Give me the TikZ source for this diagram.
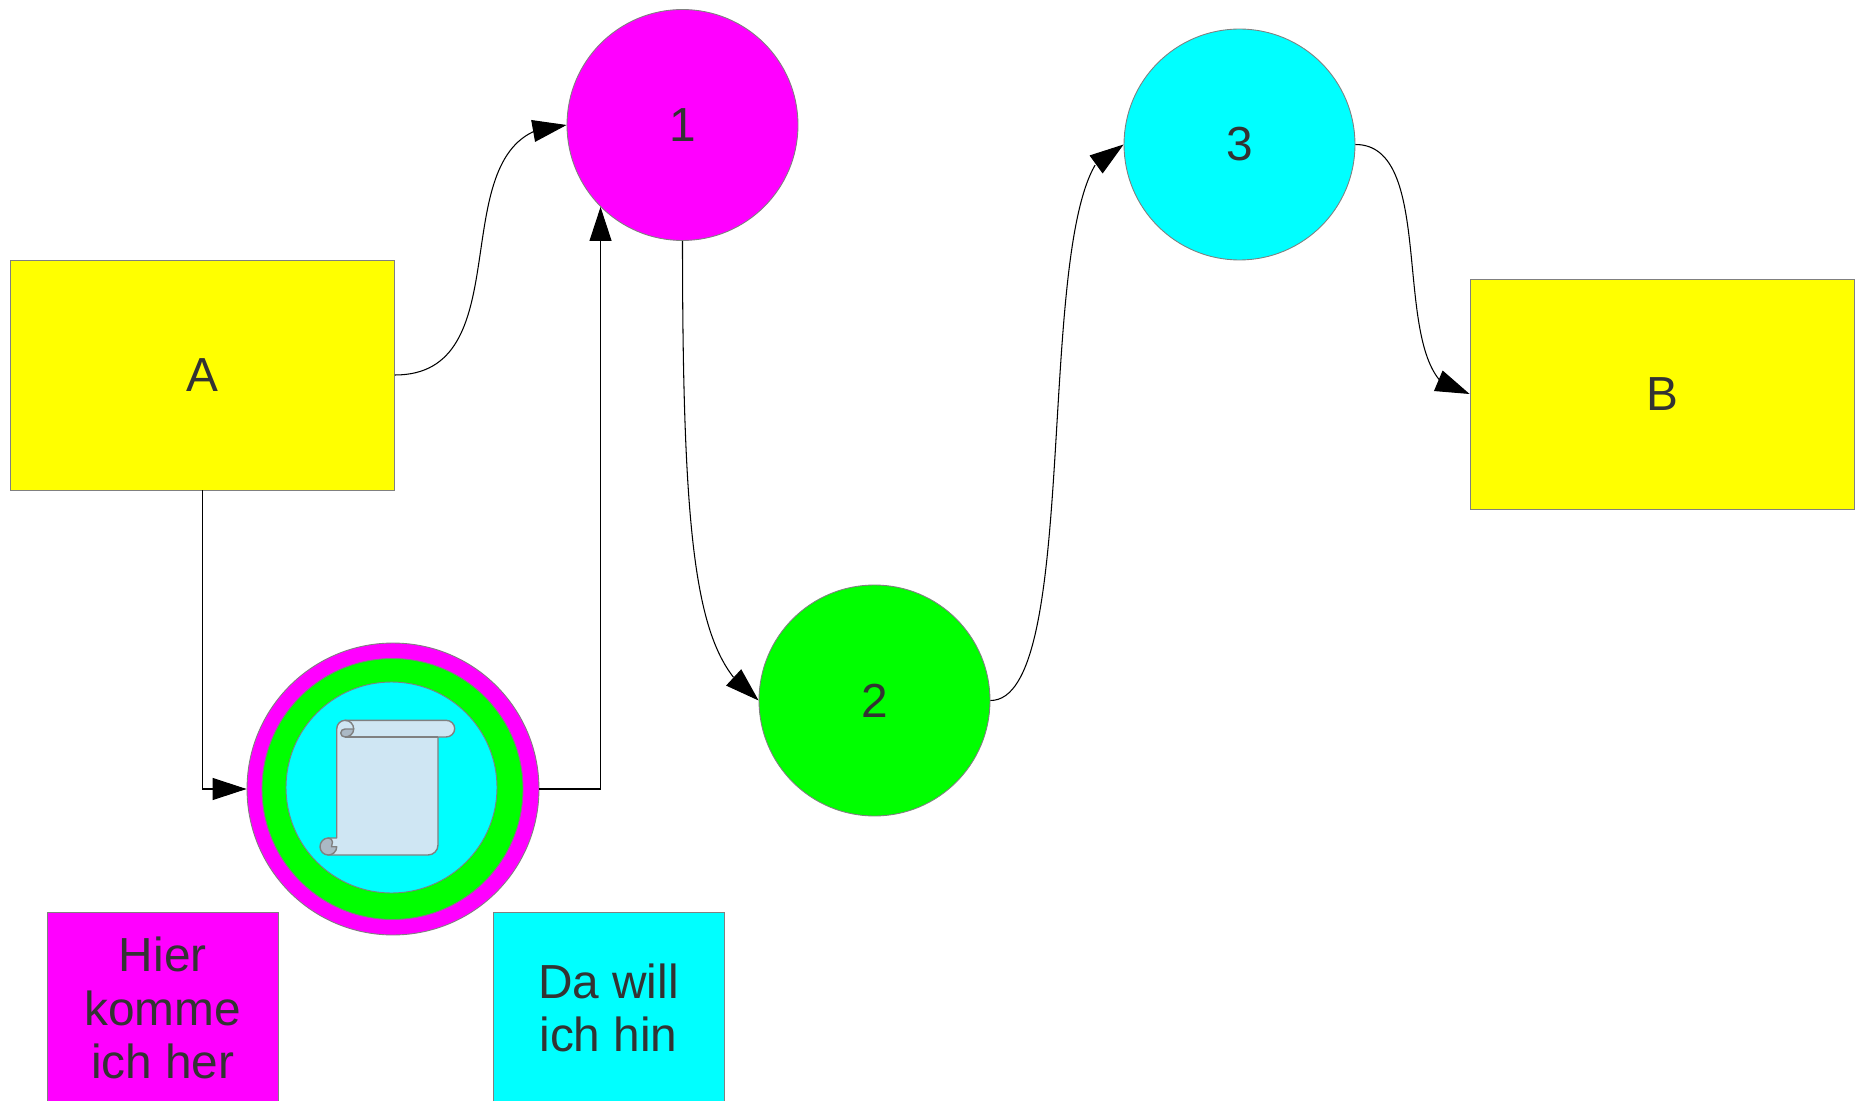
\documentclass[tikz,border=0pt]{standalone}
\usepackage{fontspec}
\setmainfont{Liberation Sans}
\usetikzlibrary{arrows.meta,bending}
\definecolor{textgrey}{HTML}{333333}
\definecolor{linegrey}{HTML}{808080}
\definecolor{scrollblue}{HTML}{CFE6F3}
\definecolor{curlblue}{HTML}{ABB9C5}
\definecolor{puremagenta}{HTML}{FF00FF}
\definecolor{purecyan}{HTML}{00FFFF}
\definecolor{pureyellow}{HTML}{FFFF00}
\definecolor{puregreen}{HTML}{00FF00}
\begin{document}
\begin{tikzpicture}[x=0.02cm,y=-0.02cm,
    every node/.style={text=textgrey,font=\fontsize{27.2}{30.6}\selectfont,align=center},
    box/.style={rectangle,draw=linegrey,line width=0.5pt,fill=pureyellow,minimum width=7.68cm,minimum height=4.6cm},
    tag/.style={rectangle,draw=linegrey,line width=0.5pt,minimum width=4.62cm,minimum height=3.84cm},
    ball/.style={circle,draw=linegrey,line width=0.5pt,minimum size=4.62cm},
    conn/.style={draw=black,line width=0.6pt,-{Triangle[length=.68cm,width=.44cm]}},
    scrollline/.style={draw=linegrey,line width=0.8pt,line join=round}]
    \useasboundingbox (0,0) rectangle (1862,1101);
    \node[box] (a) at (202.5,375) {A};
    \node[box] (b) at (1662,394) {B};
    \node[ball,fill=puremagenta] (c1) at (682.5,125) {1};
    \node[ball,fill=puregreen] (c2) at (874.5,700.5) {2};
    \node[ball,fill=purecyan] (c3) at (1239.5,144.5) {3};
    \node[ball,fill=puremagenta,minimum size=5.84cm] (m) at (393,789) {};
    \node[ball,fill=puregreen,minimum size=5.22cm] (g) at (392.5,789) {};
    \node[ball,fill=purecyan,minimum size=4.22cm] (z) at (391.5,787.5) {};
    \node[tag,fill=puremagenta] (h) at (162.75,1008) {Hier\\komme\\ich her};
    \node[tag,fill=purecyan] (d) at (608.5,1008) {Da will\\ich hin};

    \path[scrollline,fill=scrollblue]
      (336.7,838) -- (336.7,729) to[out=90,in=180] (345,720.3) -- (446,720.3)
      to[out=0,in=90] (454.7,728.6) to[out=-90,in=0] (446,737) -- (438,737)
      -- (438,845) to[out=-90,in=0] (428,855) -- (328,855) -- (328,838) -- cycle;
    \draw[scrollline] (345,737) -- (438,737);
    \path[scrollline,fill=curlblue]
      (353.7,729) to[out=-90,in=0] (345,737) to[out=180,in=-90] (340.7,733)
      to[out=90,in=180] (345,729) -- cycle;
    \draw[scrollline] (345,720.3) to[out=0,in=90] (353.7,729);
    \path[scrollline,fill=curlblue]
      (336.7,846.7) to[out=-90,in=0] (328.3,855) to[out=180,in=-90] (320,846.7)
      to[out=90,in=180] (328.3,838) to[out=0,in=90] (332.5,842)
      to[out=-90,in=90] (331.5,846.7) -- cycle;

    \draw[conn] (a.east) .. controls +(135,0) and +(-135,0) .. (c1.west);
    \draw[conn] (c1.south) .. controls +(0,330) and +(-60,-40) .. (c2.west);
    \draw[conn] (c2.east) .. controls +(100,0) and +(-100,0) .. (c3.west);
    \draw[conn] (c3.east) .. controls +(90,0) and +(-90,0) .. (b.west);
    \draw[conn] (a.south) |- (m.west);
    \draw[conn] (m.east) -| (c1.225);
\end{tikzpicture}
\end{document}
